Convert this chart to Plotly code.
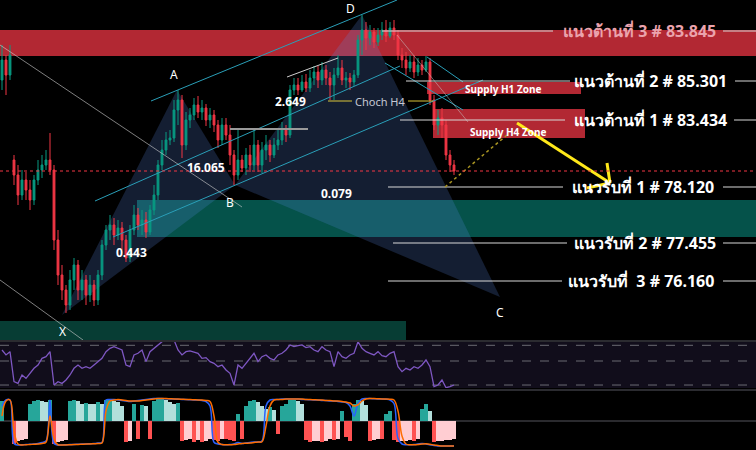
import plotly.graph_objects as go

# candles, x = bar index, prices
bar_open = [82.80, 83.60, 83.00, 79.60, 79.00, 78.20, 78.80, 78.40, 78.00, 78.80,
            79.20, 79.40, 79.60, 79.20, 76.40, 75.00, 74.40, 73.80, 74.80, 75.40,
            74.40, 74.80, 74.20, 74.60, 74.00, 75.00, 76.20, 76.80, 77.00, 76.60,
            76.88, 76.40, 75.68, 76.80, 77.40, 77.00, 77.20, 76.72, 77.60, 78.20,
            79.40, 80.00, 80.40, 80.48, 81.60, 82.00, 80.20, 81.20, 81.40, 81.80,
            81.52, 81.68, 81.20, 81.40, 81.00, 80.40, 81.00, 80.60, 79.80, 79.00,
            79.60, 79.28, 79.80, 79.40, 80.20, 79.40, 80.00, 80.20, 79.80, 80.20,
            80.40, 80.80, 80.60, 82.40, 82.60, 82.40, 82.72, 82.48, 82.88, 83.12,
            82.80, 83.20, 82.88, 82.60, 83.00, 83.28, 82.80, 82.88, 82.72, 83.00,
            84.40, 84.80, 84.48, 84.72, 84.32, 84.60, 84.80, 84.56, 84.88, 84.60,
            83.80, 83.60, 83.28, 83.52, 83.12, 83.40, 83.20, 83.52, 82.00, 81.00,
            81.28, 81.00, 79.80, 79.40]
bar_close = [83.60, 83.00, 83.80, 79.00, 78.20, 78.80, 78.40, 78.00, 78.80, 79.20,
             79.40, 79.60, 79.20, 76.40, 75.00, 74.40, 73.80, 74.80, 75.40, 74.40,
             74.80, 74.20, 74.60, 74.00, 75.00, 76.20, 76.80, 77.00, 76.60, 76.88,
             76.40, 75.68, 76.80, 77.40, 77.00, 77.20, 76.72, 77.60, 78.20, 79.40,
             80.00, 80.40, 80.48, 81.60, 82.00, 80.20, 81.20, 81.40, 81.80, 81.52,
             81.68, 81.20, 81.40, 81.00, 80.40, 81.00, 80.60, 79.80, 79.00, 79.60,
             79.28, 79.80, 79.40, 80.20, 79.40, 80.00, 80.20, 79.80, 80.20, 80.40,
             80.80, 80.60, 82.40, 82.60, 82.40, 82.72, 82.48, 82.88, 83.12, 82.80,
             83.20, 82.88, 82.60, 83.00, 83.28, 82.80, 82.88, 82.72, 83.00, 84.40,
             84.80, 84.48, 84.72, 84.32, 84.60, 84.80, 84.56, 84.88, 84.60, 83.80,
             83.60, 83.28, 83.52, 83.12, 83.40, 83.20, 83.52, 82.00, 81.00, 81.28,
             81.00, 79.80, 79.40, 79.16]
bar_high = [84.20, 83.80, 84.20, 79.80, 79.40, 79.20, 79.12, 78.80, 79.00, 79.60,
            79.80, 80.00, 80.68, 79.40, 76.80, 75.40, 74.60, 75.20, 75.68, 75.60,
            75.20, 75.00, 75.00, 74.80, 75.20, 76.40, 77.00, 77.40, 77.28, 77.20,
            77.12, 76.60, 77.00, 77.80, 77.68, 77.60, 77.52, 77.80, 78.60, 79.60,
            80.40, 80.72, 80.80, 82.00, 82.40, 82.20, 81.52, 81.68, 82.08, 82.16,
            82.00, 81.84, 81.68, 81.60, 81.20, 81.28, 81.28, 81.00, 80.00, 80.80,
            79.80, 80.08, 80.20, 80.80, 80.40, 80.32, 80.60, 80.40, 80.48, 80.80,
            81.12, 81.00, 82.60, 82.88, 82.88, 83.00, 83.04, 83.20, 83.36, 83.36,
            83.52, 83.40, 83.12, 83.28, 83.80, 83.60, 83.12, 83.08, 83.20, 84.60,
            85.40, 85.12, 85.00, 84.88, 84.88, 85.12, 85.20, 85.12, 85.20, 84.80,
            84.08, 83.92, 83.80, 83.80, 83.68, 83.60, 83.76, 83.68, 82.20, 81.60,
            81.68, 81.20, 80.00, 79.60]
bar_low = [82.40, 82.20, 82.80, 78.60, 77.80, 78.00, 78.00, 77.60, 77.80, 78.60,
           78.88, 79.20, 79.00, 76.00, 74.60, 74.00, 73.48, 73.60, 74.40, 74.00,
           74.00, 73.80, 73.92, 73.76, 73.80, 74.80, 76.00, 76.40, 76.20, 76.40,
           76.00, 75.52, 75.52, 76.60, 76.80, 76.60, 76.48, 76.60, 77.40, 78.00,
           79.20, 79.80, 80.20, 80.32, 81.00, 79.68, 80.00, 80.88, 81.20, 81.28,
           81.20, 80.96, 80.88, 80.72, 80.08, 80.20, 80.40, 79.40, 78.60, 78.80,
           79.12, 79.00, 79.12, 79.20, 79.12, 79.08, 79.60, 79.52, 79.68, 80.00,
           80.20, 80.32, 80.48, 82.20, 82.20, 82.32, 82.32, 82.32, 82.60, 82.48,
           82.60, 82.60, 82.00, 82.00, 82.88, 82.60, 82.48, 82.40, 82.56, 82.88,
           83.80, 84.00, 84.20, 84.08, 84.16, 84.40, 84.32, 84.48, 84.40, 83.60,
           83.28, 83.00, 83.12, 82.88, 82.96, 83.00, 83.12, 81.80, 80.80, 80.60,
           80.48, 79.60, 79.12, 79.00]

rsi = [64.0, 57.7, 61.9, 23.7, 21.5, 32.2, 27.9, 34.3, 40.7, 44.9,
       53.4, 55.5, 61.9, 19.4, 23.7, 21.5, 25.8, 32.2, 40.7, 44.9,
       40.7, 42.8, 40.7, 44.9, 49.2, 53.4, 61.9, 66.2, 68.3, 66.2,
       64.0, 44.9, 42.8, 57.7, 59.8, 64.0, 49.2, 61.9, 66.2, 70.4,
       74.6, 76.8, 75.5, 76.8, 64.0, 57.7, 61.9, 62.8, 61.0, 59.8,
       53.4, 54.3, 49.2, 47.0, 42.8, 44.9, 38.5, 34.3, 19.4, 44.9,
       40.7, 47.0, 53.4, 59.8, 49.2, 55.5, 57.7, 53.4, 51.3, 57.7,
       59.8, 64.0, 70.4, 68.3, 69.5, 70.4, 67.0, 68.3, 64.0, 61.9,
       68.3, 64.0, 61.9, 42.8, 61.9, 55.5, 53.4, 57.7, 59.8, 74.6,
       66.2, 61.9, 59.8, 57.7, 61.9, 56.8, 55.5, 59.8, 61.9, 42.8,
       36.4, 40.7, 38.5, 42.8, 40.7, 44.9, 51.3, 42.8, 17.3, 19.4,
       25.8, 16.0, 17.3, 19.4]

osc_hist = [80, 0, 0, -90, -80, -75, -70, 70, 80, 85,
            82, 75, 85, -90, -85, -80, -75, 80, 85, 80,
            70, 72, 70, 68, 75, 70, 85, 88, 82, 78,
            60, -85, -80, 70, -70, 65, 60, -70, 80, 88,
            88, 85, 75, 70, 72, -80, -75, -70, -82, -76,
            -85, -80, -70, -75, -80, -70, -72, -75, -78, 30,
            -70, 60, 80, 85, 75, 60, 50, 55, 45, -50,
            60, 70, 85, 85, 80, 70, -75, -85, -80, -78,
            -85, -80, -70, -75, -72, 40, -65, -80, 70, 85,
            80, 65, -80, -75, -70, -72, 30, 40, -75, -85,
            -80, -78, -75, -80, -72, 50, 70, 40, -85, -80,
            -78, -76, -74, -72]
osc_fast = [60, 84, 84, -90, -96, -95, -94, -93, -92, -90,
            -86, -80, 84, -90, -96, -96, -95, -94, -94, -93,
            -92, -92, -91, -90, -88, -86, 84, 86, 86, 84,
            82, 80, 78, 80, 82, 84, 86, 88, 90, 90,
            90, 89, 88, 88, 87, 86, 86, 85, 84, 84,
            82, 78, 60, -85, -92, -94, -95, -94, -92, -86,
            -90, -88, -86, -84, -84, -80, 60, 84, 86, 86,
            88, 88, 88, 88, 88, 86, 86, 85, 84, 84,
            82, 82, 80, 80, 78, 76, 74, 60, 20, 70,
            88, 90, 90, 89, 88, 88, 87, 84, 70, -70,
            -92, -95, -95, -94, -92, -90, -92, -95, -98, -100,
            -100, -100, -100, -100]
osc_slow = [20, 80, 84, -40, -92, -96, -95, -94, -93, -92,
            -90, -85, 20, -70, -95, -96, -96, -95, -94, -94,
            -93, -92, -92, -91, -90, -88, 40, 80, 84, 86,
            84, 82, 80, 80, 80, 82, 84, 86, 88, 90,
            90, 90, 89, 88, 88, 87, 86, 86, 85, 84,
            84, 82, 78, 20, -85, -94, -95, -95, -94, -92,
            -90, -89, -88, -86, -84, -83, -20, 60, 84, 86,
            86, 88, 88, 88, 88, 88, 86, 86, 85, 84,
            84, 82, 82, 80, 80, 78, 76, 72, 60, 65,
            80, 88, 90, 90, 89, 88, 88, 87, 84, 40,
            -60, -92, -95, -95, -94, -92, -91, -93, -96, -98,
            -100, -100, -100, -100]

# levels drawn on the chart
level_text = ["แนวต้านที่ 3 # 83.845", "แนวต้านที่ 2 # 85.301", "แนวต้านที่ 1 # 83.434",
              "แนวรับที่ 1 # 78.120", "แนวรับที่ 2 # 77.455", "แนวรับที่  3 # 76.160"]
level_price = [84.76, 82.76, 81.20, 78.52, 76.28, 74.76]
last_price = 79.16

# harmonic pattern points X A B C D (bar, price)
pat_name = ["X", "A", "B", "C", "D"]
pat_bar = [15.0, 43.75, 58.25, 124.5, 90.0]
pat_price = [73.40, 82.40, 78.60, 74.12, 85.40]
ratio_text = ["0.443", "16.065", "2.649", "0.079"]

bars = list(range(len(bar_close)))

BG = "#000000"
UP = "#089981"
DN = "#f23645"
FONT = "Noto Sans, DejaVu Sans, sans-serif"

fig = go.Figure()
fig.add_trace(go.Candlestick(x=bars, open=bar_open, high=bar_high, low=bar_low, close=bar_close,
                             increasing=dict(line=dict(color=UP, width=1), fillcolor=UP),
                             decreasing=dict(line=dict(color=DN, width=1), fillcolor=DN),
                             whiskerwidth=0, showlegend=False, hoverinfo="skip"))

fig.add_trace(go.Scatter(x=bars, y=rsi, yaxis="y2", mode="lines",
                         line=dict(color="#7e57c2", width=1.3), showlegend=False, hoverinfo="skip"))

hist_col = []
for i, v in enumerate(osc_hist):
    prev = osc_hist[i - 1] if i > 0 else 0
    if v >= 0:
        hist_col.append("#26a69a" if v >= prev else "#b2dfdb")
    else:
        hist_col.append("#ff5252" if v <= prev else "#ffcdd2")
fig.add_trace(go.Bar(x=bars, y=osc_hist, yaxis="y3", marker=dict(color=hist_col, line=dict(width=0)),
                     showlegend=False, hoverinfo="skip"))
fig.add_trace(go.Scatter(x=bars, y=osc_fast, yaxis="y3", mode="lines", line_shape="spline",
                         line=dict(color="#2962ff", width=1.5), showlegend=False, hoverinfo="skip"))
fig.add_trace(go.Scatter(x=bars, y=osc_slow, yaxis="y3", mode="lines", line_shape="spline",
                         line=dict(color="#ff6d00", width=1.5), showlegend=False, hoverinfo="skip"))

shapes = []


def rect(x0, x1, y0, y1, color, xref="x", layer="below"):
    shapes.append(dict(type="rect", xref=xref, yref="y", x0=x0, x1=x1, y0=y0, y1=y1,
                       fillcolor=color, line=dict(width=0), layer=layer))


def seg(x0, y0, x1, y1, color, width=1, dash="solid", yref="y", layer="above"):
    shapes.append(dict(type="line", xref="x", yref=yref, x0=x0, y0=y0, x1=x1, y1=y1,
                       line=dict(color=color, width=width, dash=dash), layer=layer))


# zones
rect(0, 1, 83.76, 84.80, "#b22833", xref="paper")
rect(33.75, 190, 76.52, 78.00, "#05524a")
rect(-0.5, 101.0, 72.30, 73.16, "#073d34")
rect(106.25, 144.75, 82.24, 82.72, "#b22833")
rect(107.75, 145.75, 80.48, 81.64, "#b22833")

# harmonic triangles
for a, b, c in [(0, 1, 2), (2, 3, 4)]:
    path = "M %s,%s L %s,%s L %s,%s Z" % (pat_bar[a], pat_price[a], pat_bar[b], pat_price[b],
                                          pat_bar[c], pat_price[c])
    shapes.append(dict(type="path", path=path, xref="x", yref="y",
                       fillcolor="rgba(90,136,227,0.22)", line=dict(width=0), layer="below"))

# channel + trend lines
CY = "#2a9fb8"
seg(37.25, 81.96, 98.75, 86.0, CY)
seg(23.25, 77.96, 99.5, 83.36, CY)
seg(27.75, 76.52, 120.25, 82.80, CY)
seg(95.75, 83.48, 115.25, 81.60, CY)
seg(106.25, 83.72, 115.25, 82.72, CY)
seg(98.75, 84.60, 116.5, 81.12, "rgba(200,200,200,0.5)")
seg(-0.5, 84.20, 60.0, 77.72, "rgba(210,210,210,0.6)")
seg(-0.5, 74.80, 20.25, 72.40, "rgba(210,210,210,0.6)")
seg(57.0, 80.84, 76.5, 80.84, "#9a9a9a", 2)
seg(71.25, 82.92, 84.0, 83.68, "#cfcfcf")

# level lines either side of the labels
lvl_left = [(95.0, 137.75), (101.0, 142.0), (99.5, 140.75), (96.5, 140.25), (97.75, 141.25), (96.5, 140.0)]
lvl_right = [180.25, 183.25, 183.0, 180.25, 180.25, 180.25]
for p, (l0, l1), r0 in zip(level_price, lvl_left, lvl_right):
    seg(l0, p, l1, p, "#d8d8d8")
    seg(r0, p, 188.5, p, "#d8d8d8")

# choch
seg(81.5, 81.96, 87.5, 81.96, "#d9c53a")
seg(101.5, 81.96, 107.75, 81.96, "#d9c53a")

# projection arrow
YL = "#ffe81a"
seg(128.75, 81.08, 152.0, 78.68, YL, 3)
seg(151.25, 79.48, 152.0, 78.68, YL, 3)
seg(146.25, 78.48, 152.0, 78.68, YL, 3)
seg(110.75, 78.52, 126.25, 80.60, "#a89422", 1.5, "dot")

# last price
shapes.append(dict(type="line", xref="paper", yref="y", x0=0, x1=1, y0=last_price, y1=last_price,
                   line=dict(color=DN, width=1, dash="dot"), layer="above"))

# indicator panes
shapes.append(dict(type="rect", xref="paper", yref="y2", x0=0, x1=1, y0=15.6, y1=74.2,
                   fillcolor="#110d1b", line=dict(width=0), layer="below"))
for v in [70, 50, 19.4]:
    shapes.append(dict(type="line", xref="paper", yref="y2", x0=0, x1=1, y0=v, y1=v,
                       line=dict(color="#6b6b72", width=1, dash="dash"), layer="below"))
shapes.append(dict(type="line", xref="paper", yref="y3", x0=0, x1=1, y0=0, y1=0,
                   line=dict(color="#55555c", width=1), layer="below"))
for yp in [1 - 341 / 450, 1 - 390 / 450]:
    shapes.append(dict(type="line", xref="paper", yref="paper", x0=0, x1=1, y0=yp, y1=yp,
                       line=dict(color="#2b2b30", width=2), layer="below"))

ann = []


def label(x, y, text, size=12, color="#ffffff", bold=False, xanchor="center"):
    t = "<b>%s</b>" % text if bold else text
    ann.append(dict(x=x, y=y, xref="x", yref="y", text=t, showarrow=False, xanchor=xanchor,
                    yanchor="middle", font=dict(family=FONT, size=size, color=color)))


lvl_x = [159.25, 162.0, 162.0, 160.25, 160.75, 159.75]
for i, (txt, p, x) in enumerate(zip(level_text, level_price, lvl_x)):
    label(x, p, txt, 16, "#eba3ad" if i == 0 else "#ffffff", True)

label(125.25, 82.44, "Supply H1 Zone", 10, bold=True)
label(126.5, 80.72, "Supply H4 Zone", 10, bold=True)
label(94.5, 81.96, "Choch H4", 11, "#c4c7d2")

pat_off = [-0.64, 0.64, -0.68, -0.60, 0.28]
pat_dx = [0, -0.75, -1.25, 0, -3.0]
for n, b, p, o, dx in zip(pat_name, pat_bar, pat_price, pat_off, pat_dx):
    label(b + dx, p + o, n, 12)

ratio_pos = [(32.25, 75.92), (51.0, 79.32), (72.0, 81.96), (83.5, 78.28)]
for txt, (x, y) in zip(ratio_text, ratio_pos):
    label(x, y, txt, 12, bold=True)

fig.update_layout(
    width=756, height=450,
    margin=dict(l=0, r=0, t=0, b=0),
    paper_bgcolor=BG, plot_bgcolor=BG,
    shapes=shapes, annotations=ann,
    bargap=0, boxgap=0.35,
    xaxis=dict(range=[-0.5, 188.5], visible=False, rangeslider=dict(visible=False), fixedrange=True),
    yaxis=dict(domain=[1 - 340 / 450, 1], range=[72.4, 86], visible=False, anchor="x"),
    yaxis2=dict(domain=[1 - 388 / 450, 1 - 342 / 450], range=[15.6, 74.2], visible=False, anchor="x"),
    yaxis3=dict(domain=[0, 1 - 391 / 450], range=[-116, 120], visible=False, anchor="x"),
    showlegend=False,
)

# page margin would push the 756x450 figure off the window
fig.write_html("out.html", config={"displayModeBar": False},
               post_script="document.body.style.margin='0';document.body.style.background='#000';")
